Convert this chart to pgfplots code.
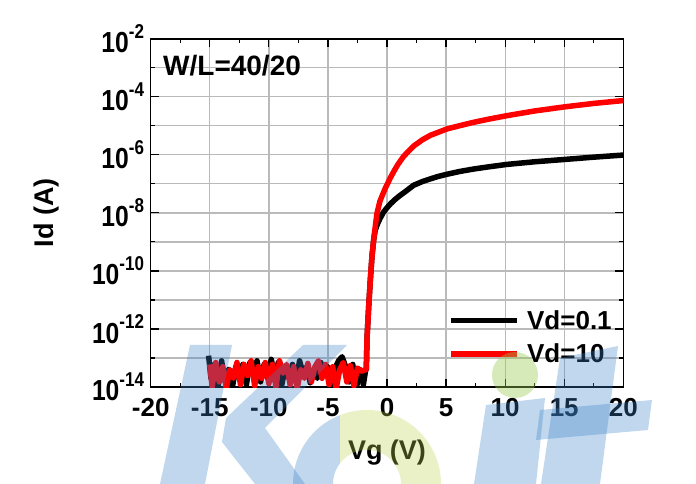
\documentclass[border=0pt]{standalone}
\usepackage{fontspec}
\setmainfont{Liberation Sans}
\newfontfamily\narrowfont{Liberation Sans}[FakeStretch=0.85]
\usepackage{pgfplots}
\pgfplotsset{compat=1.18}
\newcommand{\yl}[1]{{\narrowfont\bfseries\fontsize{29bp}{30bp}\selectfont 10\raisebox{14.5bp}{\fontsize{20bp}{20bp}\selectfont #1}}}
\definecolor{wmblue}{RGB}{60,130,200}
\definecolor{wmgreen}{RGB}{150,200,80}
\definecolor{wmyellow}{RGB}{190,210,80}
\begin{document}
\begin{tikzpicture}
\begin{axis}[name=ax, scale only axis, width=472.6bp, height=348.3bp,
  xmin=-20, xmax=20, ymode=log, ymin=1e-14, ymax=1e-2,
  xtick={-20,-15,-10,-5,0,5,10,15,20},
  xticklabels={-20,-15,-10,-5,0,5,10,15,20},
  minor xtick={-17.5,-12.5,-7.5,-2.5,2.5,7.5,12.5,17.5},
  ytick={1e-14,1e-12,1e-10,1e-8,1e-6,1e-4,1e-2},
  yticklabels={\yl{-14},\yl{-12},\yl{-10},\yl{-8},\yl{-6},\yl{-4},\yl{-2}},
  minor ytick={1e-13,1e-11,1e-9,1e-7,1e-5,1e-3},
  grid=major, yminorgrids=true,
  major grid style={draw=black!27, line width=1.3bp},
  minor grid style={draw=black!27, line width=1.3bp},
  tick align=inside, major tick length=8bp, minor tick length=4bp,
  tick style={black, line width=1.2bp},
  axis line style={line width=1.6bp},
  every tick label/.append style={inner sep=0pt},
  xticklabel style={font=\bfseries\fontsize{26bp}{30bp}\selectfont, yshift=-11bp},
  yticklabel style={xshift=-6.5bp},
  xlabel={Vg (V)}, ylabel={Id (A)},
  label style={font=\bfseries\fontsize{27bp}{30bp}\selectfont},
  xlabel style={at={(axis description cs:0.5,-0.1895)}, anchor=center},
  ylabel style={at={(axis description cs:-0.22,0.5)}, anchor=center},
  legend style={draw=none, fill=none, font=\bfseries\fontsize{26bp}{30bp}\selectfont,
    at={(rel axis cs:0.630,0.226)}, anchor=north west, inner sep=0pt,
    row sep=9bp, column sep=5bp, legend cell align=left},
  legend image code/.code={\draw[#1, line width=5.5bp] (0bp,0bp) -- (66bp,0bp);},
]
\addplot[black, line width=5.5bp, line join=round] coordinates {
(-15.1,1.2e-13) (-14.9,2e-14) (-14.6,6e-14) (-14.3,1e-14) (-14.0,8e-14) (-13.7,1.5e-14)
(-13.4,4e-14) (-13.1,9e-15) (-12.8,5e-14) (-12.5,2e-14) (-12.2,6e-14) (-11.9,1.2e-14)
(-11.6,7e-14) (-11.3,3e-14) (-11.0,8e-14) (-10.7,1.5e-14) (-10.4,6e-14) (-10.1,2e-14)
(-9.8,9e-14) (-9.5,2.5e-14) (-9.2,7e-14) (-8.9,1.2e-14) (-8.6,5e-14) (-8.3,2e-14)
(-8.0,6e-14) (-7.7,1.5e-14) (-7.4,8e-14) (-7.1,3e-14) (-6.8,5e-14) (-6.5,1.4e-14)
(-6.2,4e-14) (-5.9,2e-14) (-5.6,7e-14) (-5.3,3e-14) (-5.0,5e-14) (-4.7,1.2e-14)
(-4.4,4.5e-14) (-4.1,8e-14) (-3.8,1.1e-13) (-3.5,5e-14) (-3.2,1.5e-14) (-2.9,6e-14)
(-2.6,9e-15) (-2.3,4e-14) (-2.0,1.2e-14) (-1.8,4e-14)
(-1.75,4e-14) (-1.69,5e-13) (-1.55,5.8e-12) (-1.41,5e-11) (-1.27,3.2e-10) (-1.13,1.15e-9)
(-1.0,2.5e-9) (-0.8,4.2e-9) (-0.6,6.3e-9) (-0.3,1.05e-8) (0,1.5e-8) (0.3,2.05e-8) (0.6,2.7e-8)
(1.0,3.7e-8) (1.5,5.2e-8) (2.25,8.9e-8) (3.0,1.2e-7) (3.67,1.48e-7) (4.3,1.78e-7) (5.08,2.14e-7)
(6.2,2.69e-7) (7.34,3.24e-7) (8.5,3.8e-7) (10.17,4.68e-7) (12.5,5.75e-7) (15,6.9e-7)
(17.5,8.3e-7) (20,9.8e-7)
};
\addplot[red, line width=5.5bp, line join=round] coordinates {
(-15.0,6e-14) (-14.8,1e-14) (-14.5,7e-14) (-14.2,1.5e-14) (-13.9,5e-14) (-13.6,9e-15)
(-13.3,4e-14) (-13.0,2e-14) (-12.7,7e-14) (-12.4,1.2e-14) (-12.1,6e-14) (-11.8,2.5e-14)
(-11.5,8e-14) (-11.2,1.1e-14) (-10.9,5e-14) (-10.6,2e-14) (-10.3,7e-14) (-10.0,1.3e-14)
(-9.7,6e-14) (-9.4,1e-14) (-9.1,8e-14) (-8.8,3e-14) (-8.5,6e-14) (-8.2,1.2e-14)
(-7.9,5e-14) (-7.6,9e-15) (-7.3,4e-14) (-7.0,2e-14) (-6.7,6.5e-14) (-6.4,1.5e-14)
(-6.1,5e-14) (-5.8,8e-14) (-5.5,2e-14) (-5.2,6e-14) (-4.9,1.2e-14) (-4.6,5e-14)
(-4.3,9e-15) (-4.0,4e-14) (-3.7,7e-14) (-3.4,1.5e-14) (-3.1,5.5e-14) (-2.8,1.1e-14)
(-2.5,4.5e-14) (-2.2,3.5e-14)
(-1.75,4e-14) (-1.69,5e-13) (-1.55,5.8e-12) (-1.41,5e-11) (-1.27,3.2e-10) (-1.13,1.15e-9)
(-1.0,3.2e-9) (-0.85,9.5e-9) (-0.6,2.5e-8) (-0.4,4e-8) (-0.14,7.1e-8) (0.28,1.6e-7)
(0.56,2.6e-7) (0.9,4.5e-7) (1.41,8.9e-7) (2.25,2e-6) (3.0,3.3e-6) (3.67,4.7e-6)
(5.08,7.8e-6) (6.2,1.02e-5) (7.34,1.32e-5) (8.5,1.66e-5) (10.17,2.24e-5) (12.5,3.24e-5)
(15,4.47e-5) (17.5,5.9e-5) (20,7.4e-5)
};
\legend{Vd=0.1, Vd=10}
\node[anchor=west, inner sep=0pt, font=\bfseries\fontsize{28bp}{30bp}\selectfont] at (rel axis cs:0.026,0.923) {W/L=40/20};
\end{axis}
% watermark (image pixel coordinates, origin top-left)
\begin{scope}[shift={([shift={(-150.7bp,387bp)}]ax.south west)}, x=1bp, y=-1bp]
  \fill[wmblue, opacity=0.32] (190,345) -- (232,345) -- (205,484) -- (160,484) -- cycle;
  \fill[wmblue, opacity=0.32] (303,345) -- (347,345) -- (265,428) -- (305,484) -- (255,484) -- (222,442) -- (226,418) -- cycle;
  \begin{scope}
    \clip (280,395) rectangle (340,490);
    \fill[even odd rule, wmblue, opacity=0.32] (367,484) circle[radius=74] (367,484) circle[radius=34];
  \end{scope}
  \begin{scope}
    \clip (340,395) rectangle (450,490);
    \fill[even odd rule, wmyellow, opacity=0.32] (367,484) circle[radius=74] (367,484) circle[radius=34];
  \end{scope}
  \fill[wmblue, opacity=0.32] (486,405) -- (545,398) -- (536,484) -- (474,484) -- cycle;
  \fill[wmgreen, opacity=0.4] (515,375) circle[radius=23];
  \fill[wmblue, opacity=0.32] (560,358) -- (618,346) -- (600,484) -- (541,484) -- cycle;
  \fill[wmblue, opacity=0.32] (540,410) -- (652,400) -- (648,430) -- (536,440) -- cycle;
\end{scope}
\pgfresetboundingbox
\useasboundingbox ([shift={(-150.7bp,-97bp)}]ax.south west) rectangle ([shift={(72.7bp,38.7bp)}]ax.north east);
\end{tikzpicture}
\end{document}
